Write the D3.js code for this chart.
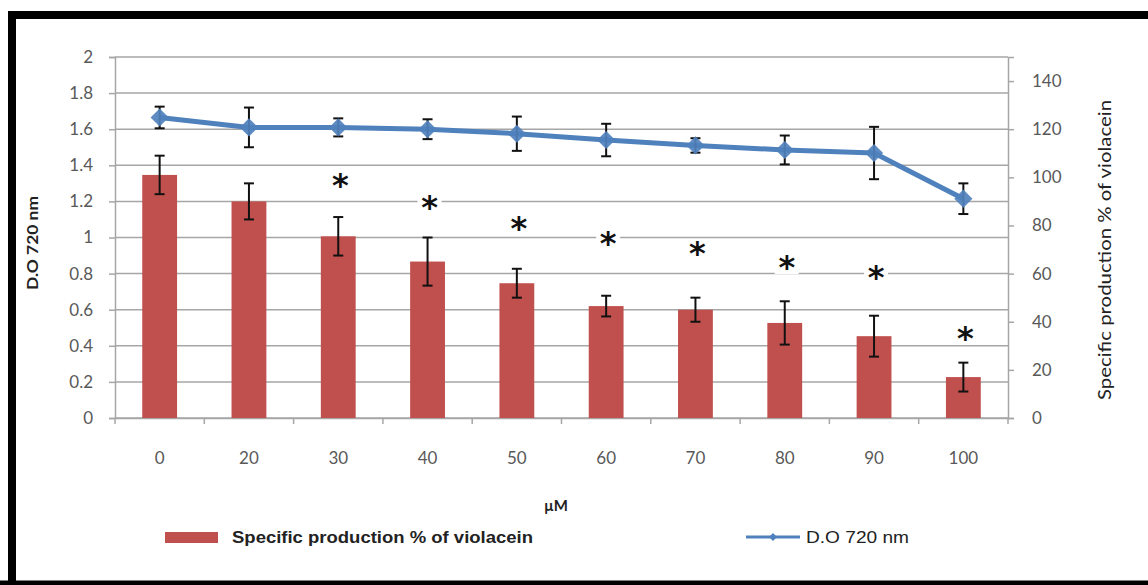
<!DOCTYPE html>
<html>
<head>
<meta charset="utf-8">
<script src="https://cdn.jsdelivr.net/npm/d3@7"></script>
<style>
  html, body { margin: 0; padding: 0; background: #fff; }
  svg { display: block; }
</style>
</head>
<body>
<svg id="chart" width="1148" height="585"></svg>
<script>
// ---------- data ----------
const categories = ["0", "20", "30", "40", "50", "60", "70", "80", "90", "100"];
// Specific production % of violacein (right axis)
const violacein = [101, 90, 75.5, 65, 56, 46.5, 45, 39.5, 34, 17];
const violaceinErr = [8, 7.5, 8, 10, 6, 4.3, 5, 9, 8.5, 6];
// D.O 720 nm (left axis)
const od720 = [1.665, 1.61, 1.61, 1.60, 1.575, 1.54, 1.51, 1.485, 1.468, 1.215];
const od720Err = [0.06, 0.11, 0.05, 0.055, 0.095, 0.09, 0.04, 0.08, 0.145, 0.085];
// significance asterisks (category, height on right axis)
const starCats = ["30", "40", "50", "60", "70", "80", "90", "100"];
const starLevels = [98, 89, 80, 74, 70, 64, 60, 34.5];
const leftTicks = [0, 0.2, 0.4, 0.6, 0.8, 1, 1.2, 1.4, 1.6, 1.8, 2];
const rightTicks = [0, 20, 40, 60, 80, 100, 120, 140];

// ---------- layout ----------
const svg = d3.select("#chart");
const plot = { left: 115, right: 1008, top: 57, bottom: 418 };
const barColor = "#C0504D";
const lineColor = "#4F81BD";
const gridColor = "#A6A6A6";
const textColor = "#595959";
const font = "Lato, 'Open Sans', sans-serif";

const x = d3.scaleBand().domain(categories).range([plot.left, plot.right]).paddingInner(0).paddingOuter(0);
const yL = d3.scaleLinear().domain([0, 2]).range([plot.bottom, plot.top]);
const yR = d3.scaleLinear().domain([0, 150]).range([plot.bottom, plot.top]);

// frame
svg.append("path")
  .attr("d", "M12,585 L12,15 L1152,15")
  .attr("fill", "none").attr("stroke", "#000").attr("stroke-width", 8);
svg.append("line").attr("x1", 0).attr("x2", 1148).attr("y1", 583).attr("y2", 583)
  .attr("stroke", "#000").attr("stroke-width", 5);

// gridlines
svg.append("g").selectAll("line").data(leftTicks).join("line")
  .attr("x1", plot.left).attr("x2", plot.right)
  .attr("y1", d => yL(d)).attr("y2", d => yL(d))
  .attr("stroke", gridColor).attr("stroke-width", 1.5);

// left axis
const gL = svg.append("g").attr("transform", `translate(${plot.left},0)`)
  .call(d3.axisLeft(yL).tickValues(leftTicks).tickSize(6).tickPadding(16).tickFormat(d => d3.format("~g")(d)));
gL.select(".domain").attr("stroke", gridColor).attr("stroke-width", 1.5);
gL.selectAll(".tick line").attr("stroke", gridColor).attr("stroke-width", 1.5);
gL.selectAll("text").attr("fill", textColor).style("font-family", font).style("font-size", "17px");

// right axis
const gR = svg.append("g").attr("transform", `translate(${plot.right},0)`)
  .call(d3.axisRight(yR).tickValues(rightTicks).tickSize(6).tickPadding(18));
gR.select(".domain").attr("stroke", gridColor).attr("stroke-width", 1.5);
gR.selectAll(".tick line").attr("stroke", gridColor).attr("stroke-width", 1.5);
gR.selectAll("text").attr("fill", textColor).style("font-family", font).style("font-size", "17px");

// bottom axis
const gB = svg.append("g").attr("transform", `translate(0,${plot.bottom})`)
  .call(d3.axisBottom(x).tickSize(0).tickPadding(34));
gB.select(".domain").attr("stroke", gridColor).attr("stroke-width", 1.5);
gB.selectAll("text").attr("fill", textColor).style("font-family", font).style("font-size", "17px");
// category boundary ticks
const bounds = categories.map(c => x(c)).concat([plot.right]);
svg.append("g").selectAll("line").data(bounds).join("line")
  .attr("x1", d => d).attr("x2", d => d)
  .attr("y1", plot.bottom).attr("y2", plot.bottom + 6)
  .attr("stroke", gridColor).attr("stroke-width", 1.5);

// bars
const barW = x.bandwidth() * 0.39;
const cx = c => x(c) + x.bandwidth() / 2;
svg.append("g").selectAll("rect").data(categories).join("rect")
  .attr("x", c => cx(c) - barW / 2)
  .attr("width", barW)
  .attr("y", (c, i) => yR(violacein[i]))
  .attr("height", (c, i) => yR(0) - yR(violacein[i]))
  .attr("fill", barColor);

// error bars helper
function errorBars(g, vals, errs, scale) {
  const cap = 5;
  const eb = g.selectAll("g").data(categories).join("g");
  eb.append("line")
    .attr("x1", cx).attr("x2", cx)
    .attr("y1", (c, i) => scale(vals[i] + errs[i]))
    .attr("y2", (c, i) => scale(vals[i] - errs[i]));
  eb.append("line")
    .attr("x1", c => cx(c) - cap).attr("x2", c => cx(c) + cap)
    .attr("y1", (c, i) => scale(vals[i] + errs[i]))
    .attr("y2", (c, i) => scale(vals[i] + errs[i]));
  eb.append("line")
    .attr("x1", c => cx(c) - cap).attr("x2", c => cx(c) + cap)
    .attr("y1", (c, i) => scale(vals[i] - errs[i]))
    .attr("y2", (c, i) => scale(vals[i] - errs[i]));
  eb.selectAll("line").attr("stroke", "#111").attr("stroke-width", 2);
}
errorBars(svg.append("g"), violacein, violaceinErr, yR);

// line
const line = d3.line().x((d, i) => cx(categories[i])).y(d => yL(d));
svg.append("path").datum(od720)
  .attr("d", line)
  .attr("fill", "none").attr("stroke", lineColor).attr("stroke-width", 5)
  .attr("stroke-linejoin", "round");
errorBars(svg.append("g"), od720, od720Err, yL);
// diamond markers
const diamond = d3.symbol().type(d3.symbolDiamond2).size(210);
svg.append("g").selectAll("path").data(od720).join("path")
  .attr("d", diamond)
  .attr("transform", (d, i) => `translate(${cx(categories[i])},${yL(d)})`)
  .attr("fill", lineColor).attr("fill-opacity", 0.92);

// asterisks
const stars = svg.append("g");
starCats.forEach((c, i) => {
  const sx = cx(c) + 2, sy = yR(starLevels[i]);
  stars.append("rect").attr("x", sx - 12).attr("y", sy - 10).attr("width", 24).attr("height", 20).attr("fill", "#fff");
  stars.append("text").attr("x", sx).attr("y", sy + 14)
    .attr("text-anchor", "middle")
    .style("font-family", "'DejaVu Sans', sans-serif").style("font-size", "32px").style("font-weight", "bold")
    .attr("fill", "#111").text("*");
});

// axis titles
svg.append("text")
  .attr("transform", `translate(38,243) rotate(-90)`)
  .attr("text-anchor", "middle")
  .style("font-family", font).style("font-size", "16px").style("font-weight", "bold")
  .attr("textLength", 94).attr("lengthAdjust", "spacingAndGlyphs")
  .attr("fill", "#222").text("D.O 720 nm");
svg.append("text")
  .attr("transform", `translate(1111,250) rotate(-90)`)
  .attr("text-anchor", "middle")
  .style("font-family", font).style("font-size", "18px")
  .attr("textLength", 300).attr("lengthAdjust", "spacingAndGlyphs")
  .attr("fill", "#222").text("Specific production % of violacein");
svg.append("text")
  .attr("x", 556).attr("y", 511)
  .attr("text-anchor", "middle")
  .style("font-family", font).style("font-size", "15px").style("font-weight", "bold")
  .attr("fill", "#222").text("µM");

// legend
const legFont = "'Liberation Sans Narrow', 'Arial Narrow', sans-serif";
svg.append("rect").attr("x", 165).attr("y", 532).attr("width", 53).attr("height", 11).attr("fill", barColor);
svg.append("text").attr("x", 232).attr("y", 543)
  .style("font-family", legFont).style("font-size", "17px").style("font-weight", "bold")
  .attr("textLength", 301).attr("lengthAdjust", "spacingAndGlyphs")
  .attr("fill", "#222").text("Specific production % of violacein");
svg.append("line").attr("x1", 746).attr("x2", 800).attr("y1", 537).attr("y2", 537)
  .attr("stroke", lineColor).attr("stroke-width", 3);
svg.append("path").attr("d", d3.symbol().type(d3.symbolDiamond2).size(40))
  .attr("transform", "translate(773,537)").attr("fill", lineColor);
svg.append("text").attr("x", 806).attr("y", 543)
  .style("font-family", legFont).style("font-size", "17px")
  .attr("textLength", 103).attr("lengthAdjust", "spacingAndGlyphs")
  .attr("fill", "#222").text("D.O 720 nm");
</script>
</body>
</html>
